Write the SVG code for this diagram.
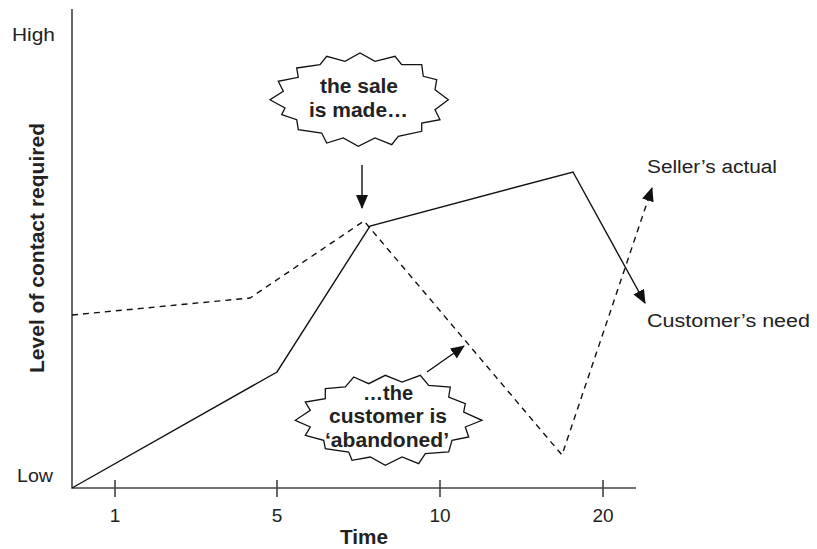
<svg xmlns="http://www.w3.org/2000/svg" width="817" height="549" viewBox="0 0 817 549">
  <style>
    .lbl { font-family: "Liberation Sans", Arial, sans-serif; font-size: 18px; fill: #222; }
    .tick { font-family: "Liberation Sans", Arial, sans-serif; font-size: 19px; fill: #222; }
    .bold { font-family: "Liberation Sans", Arial, sans-serif; font-size: 19.5px; font-weight: bold; fill: #222; }
    .axis { stroke: #444; stroke-width: 1.6; fill: none; }
    .solid { stroke: #111; stroke-width: 1.4; fill: none; }
    .dashed { stroke: #111; stroke-width: 1.4; fill: none; stroke-dasharray: 6 5; }
    .burst { fill: #fff; stroke: #111; stroke-width: 1.3; stroke-linejoin: miter; }
  </style>
  <defs>
    <marker id="arrow" markerUnits="userSpaceOnUse" markerWidth="14" markerHeight="12" refX="13" refY="6" orient="auto">
      <path d="M0,0 L14,6 L0,12 Z" fill="#111"/>
    </marker>
  </defs>

  <!-- axes -->
  <g id="axes">
    <path class="axis" d="M72,9 V488 H636"/>
    <path class="axis" d="M115,480 V497 M277,480 V497 M440,480 V497 M603,480 V497"/>
    <text class="lbl" x="12" y="41" textLength="43" lengthAdjust="spacingAndGlyphs">High</text>
    <text class="lbl" x="17" y="482" textLength="36" lengthAdjust="spacingAndGlyphs">Low</text>
    <text class="tick" x="115" y="522" text-anchor="middle">1</text>
    <text class="tick" x="277" y="522" text-anchor="middle">5</text>
    <text class="tick" x="440" y="522" text-anchor="middle">10</text>
    <text class="tick" x="603" y="522" text-anchor="middle">20</text>
    <text class="bold" x="340" y="544" textLength="48" lengthAdjust="spacingAndGlyphs">Time</text>
    <text class="bold" transform="translate(44,373) rotate(-90)" x="0" y="0" textLength="250" lengthAdjust="spacingAndGlyphs">Level of contact required</text>
  </g>

  <!-- series and pointers -->
  <g id="connectors">
    <polyline class="solid" points="72,488 277,372 370,226 573,172 645,303" marker-end="url(#arrow)"/>
    <polyline class="dashed" points="72,315 250,298 364,221 562,455 652,188" marker-end="url(#arrow)"/>
    <line class="solid" x1="362" y1="165" x2="362" y2="208" marker-end="url(#arrow)"/>
    <line class="solid" x1="427" y1="372" x2="464" y2="346" marker-end="url(#arrow)"/>
  </g>

  <g id="seller-actual">
    <text class="lbl" x="647" y="173" textLength="130" lengthAdjust="spacingAndGlyphs">Seller’s actual</text>
  </g>
  <g id="customer-need">
    <text class="lbl" x="647" y="327" textLength="163" lengthAdjust="spacingAndGlyphs">Customer’s need</text>
  </g>

  <g id="sale-made">
    <polygon class="burst" points="296.7,68 320,64.7 326.7,56.3 345,61.3 360,53 375,61.3 395,56.3 401.7,64.7 421.7,64.7 423.3,76.3 436.7,79.7 435,89.7 448.3,99.7 435,109.7 440,119.7 421.7,123 421.7,131.3 398.3,136.3 391.7,144.7 375,138 358.3,146.3 343.3,138 326.7,143 321.7,133 298.3,129.7 296.7,119.7 281.7,114.7 285,108 270,99.7 283.3,91.3 278.3,81.3 298.3,77.3"/>
    <text class="bold" x="320" y="93" textLength="78" lengthAdjust="spacingAndGlyphs">the sale</text>
    <text class="bold" x="309" y="117" textLength="99" lengthAdjust="spacingAndGlyphs">is made…</text>
  </g>

  <g id="customer-abandoned">
    <polygon class="burst" points="325.3,388.7 345.3,387 353.7,377 368.7,383.7 385.3,375.3 402,382 420.3,375.3 428.7,385.3 450.3,387 448.7,397 465.3,403.7 463.7,412 482,420.3 465.3,427 468.7,437 452,440.3 448.7,452 425.3,453.7 418.7,463.7 402,457 385.3,465.3 370.3,457 352,460.3 348.7,452 325.3,448.7 323.7,440.3 305.3,435.3 310.3,427 295.3,420.3 310.3,410.3 305.3,402 325.3,398.7"/>
    <text class="bold" x="363" y="400" textLength="50" lengthAdjust="spacingAndGlyphs">…the</text>
    <text class="bold" x="329" y="423" textLength="118" lengthAdjust="spacingAndGlyphs">customer is</text>
    <text class="bold" x="325" y="447" textLength="124" lengthAdjust="spacingAndGlyphs">‘abandoned’</text>
  </g>
</svg>
